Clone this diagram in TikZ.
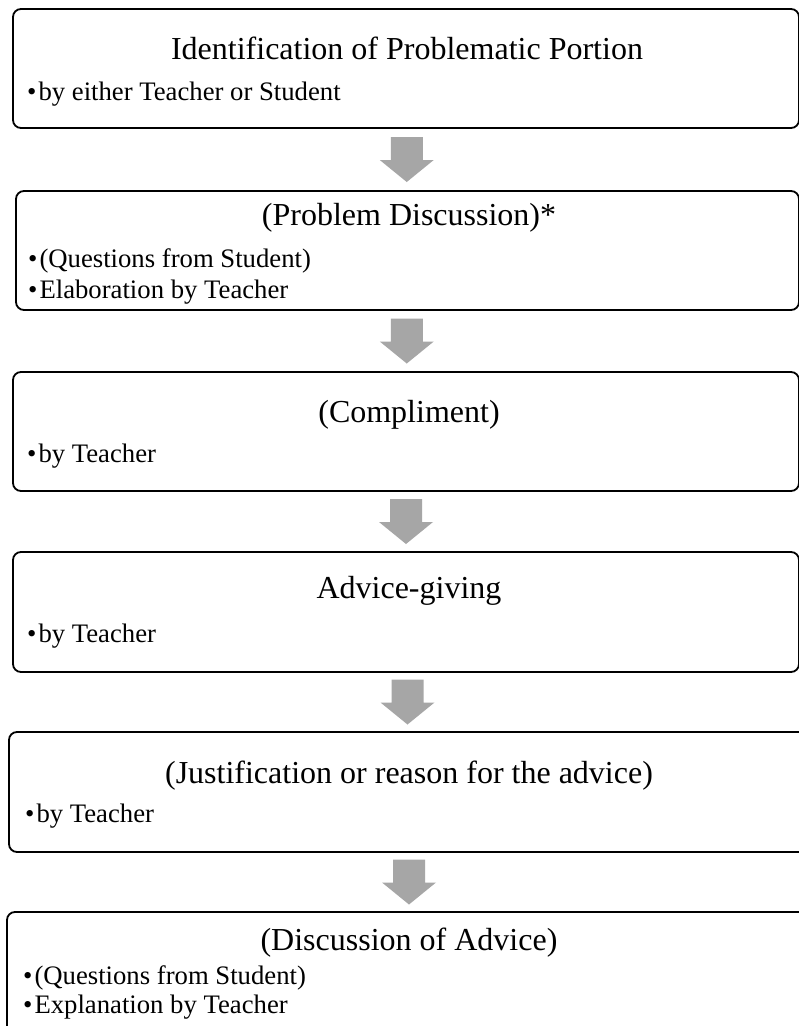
\documentclass[tikz,border=0pt]{standalone}
\usepackage{fontspec}
\setmainfont{Liberation Serif}
\usetikzlibrary{calc}
\definecolor{arrowgray}{RGB}{166,166,166}
\tikzset{
  stage/.style={draw=black, line width=1.8pt, rounded corners=8pt, rectangle, inner sep=0pt, fill=white},
  title/.style={anchor=base, inner sep=0pt, font=\fontsize{32}{38}\selectfont},
  item/.style={anchor=base west, inner sep=0pt, font=\fontsize{26.7}{31}\selectfont},
  pics/dnarrow/.style={code={
    \fill[arrowgray] (-16,-22.5) -- (16,-22.5) -- (16,0.5) -- (27,0.5) -- (0,22.5) -- (-27,0.5) -- (-16,0.5) -- cycle;}}
}
\begin{document}
\begin{tikzpicture}[x=1pt,y=-1pt]
\useasboundingbox (0,0) rectangle (799,1026);
\clip (0,0) rectangle (799,1026);
\fill[white] (0,0) rectangle (799,1026);
\coordinate (cx) at (409,0);
% boxes
\node[stage, minimum width=786pt, minimum height=119pt] (b1) at (406,68.5) {};
\node[stage, minimum width=783pt, minimum height=119pt] (b2) at (407.5,250.5) {};
\node[stage, minimum width=786pt, minimum height=119pt] (b3) at (406,431.5) {};
\node[stage, minimum width=786pt, minimum height=120pt] (b4) at (406,612) {};
\node[stage, minimum width=800pt, minimum height=120pt] (b5) at (409,792) {};
\node[stage, minimum width=804pt, minimum height=128pt] (b6) at (409,976) {};
% titles
\node[title] (t1) at (407,59) {Identification of Problematic Portion};
\node[title] (t2) at (409,225) {(Problem Discussion)*};
\node[title] (t3) at (409,422) {(Compliment)};
\node[title] (t4) at (409,598) {Advice-giving};
\node[title] (t5) at (409,783) {(Justification or reason for the advice)};
\node[title] (t6) at (409,950) {(Discussion of Advice)};
% items
\node[item] (i1) at (27,100) {•\hspace{2pt}by either Teacher or Student};
\node[item] (i2a) at (28,267) {•\hspace{2pt}(Questions from Student)};
\node[item] (i2b) at (28,298) {•\hspace{2pt}Elaboration by Teacher};
\node[item] (i3) at (27,462) {•\hspace{2pt}by Teacher};
\node[item] (i4) at (27,642) {•\hspace{2pt}by Teacher};
\node[item] (i5) at (25,822) {•\hspace{2pt}by Teacher};
\node[item] (i6a) at (23,984) {•\hspace{2pt}(Questions from Student)};
\node[item] (i6b) at (23,1013) {•\hspace{2pt}Explanation by Teacher};
% arrows
\pic at ($(b1.south)!.5!(b2.north)$ -| cx) {dnarrow};
\pic at ($(b2.south)!.5!(b3.north)$ -| cx) {dnarrow};
\pic at ($(b3.south)!.5!(b4.north)$ -| cx) {dnarrow};
\pic at ($(b4.south)!.5!(b5.north)$ -| cx) {dnarrow};
\pic at ($(b5.south)!.5!(b6.north)$ -| cx) {dnarrow};
\end{tikzpicture}
\end{document}
